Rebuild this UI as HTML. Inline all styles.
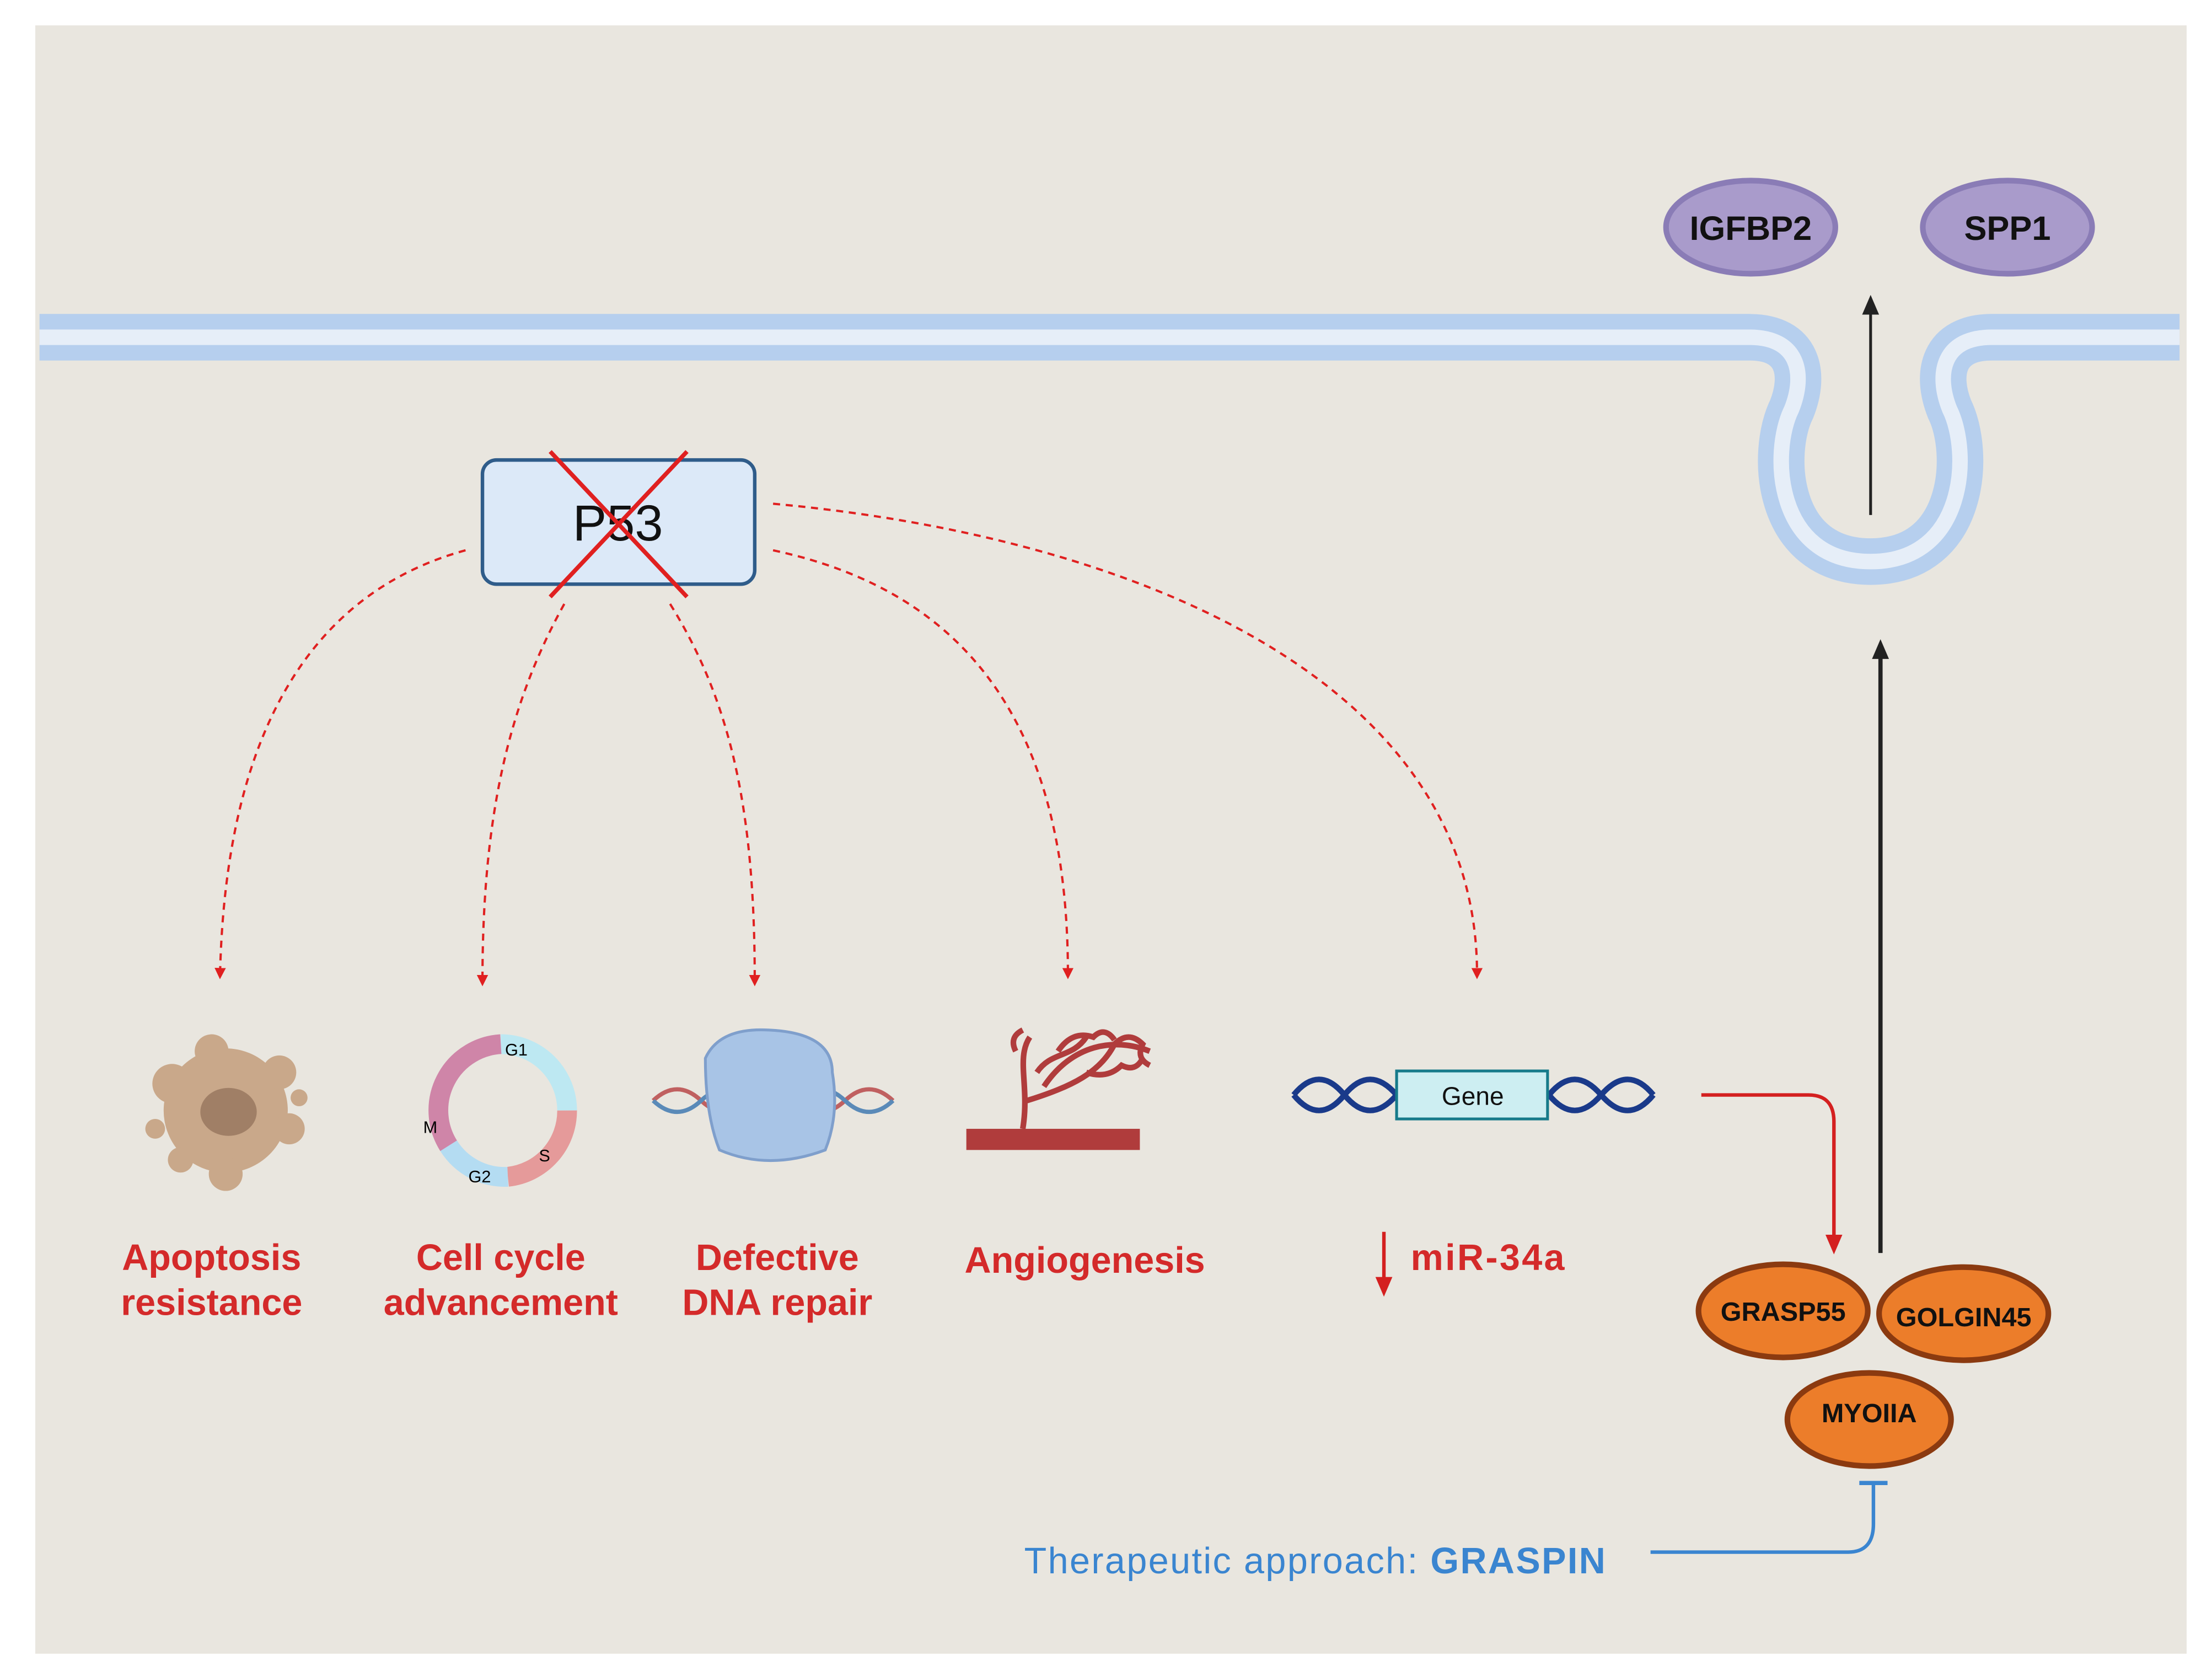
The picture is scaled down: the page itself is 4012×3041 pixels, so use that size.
<!DOCTYPE html>
<html><head><meta charset="utf-8"><style>
html,body{margin:0;padding:0;background:#fff;}
svg{display:block;}
text{font-family:"Liberation Sans",sans-serif;}
</style></head><body>
<svg width="4012" height="3041" viewBox="0 0 1568 1188.5" preserveAspectRatio="none" xmlns="http://www.w3.org/2000/svg">
<defs>
<marker id="ar" markerWidth="8" markerHeight="8" refX="4" refY="4" orient="auto" markerUnits="userSpaceOnUse"><path d="M0,0 L8,4 L0,8 z" fill="#e02020"/></marker>
<marker id="arb" markerWidth="14" markerHeight="14" refX="7" refY="7" orient="auto" markerUnits="userSpaceOnUse"><path d="M0,1 L14,7 L0,13 z" fill="#222"/></marker>
<marker id="arr" markerWidth="14" markerHeight="14" refX="7" refY="7" orient="auto" markerUnits="userSpaceOnUse"><path d="M0,1 L14,7 L0,13 z" fill="#d42020"/></marker>
</defs>
<rect x="25" y="18" width="1525" height="1154" fill="#e9e6df"/>
<path d="M28 239 H1240 C1275 239 1280 265 1270 290 C1255 320 1258 398 1326 398 C1394 398 1397 320 1382 290 C1372 265 1377 239 1412 239 H1545" fill="none" stroke="#b6cfee" stroke-width="33"/>
<path d="M28 239 H1240 C1275 239 1280 265 1270 290 C1255 320 1258 398 1326 398 C1394 398 1397 320 1382 290 C1372 265 1377 239 1412 239 H1545" fill="none" stroke="#e6eef8" stroke-width="11"/>
<ellipse cx="1241" cy="161" rx="60" ry="33" fill="#a99bcb" stroke="#8a7cb6" stroke-width="4"/>
<text x="1241" y="170" font-size="24" font-weight="bold" text-anchor="middle" fill="#111">IGFBP2</text>
<ellipse cx="1423" cy="161" rx="60" ry="33" fill="#a99bcb" stroke="#8a7cb6" stroke-width="4"/>
<text x="1423" y="170" font-size="24" font-weight="bold" text-anchor="middle" fill="#111">SPP1</text>
<line x1="1326" y1="365" x2="1326" y2="216" stroke="#222" stroke-width="2" marker-end="url(#arb)"/>
<line x1="1333" y1="888" x2="1333" y2="460" stroke="#222" stroke-width="3" marker-end="url(#arb)"/>
<rect x="342" y="326" width="193" height="88" rx="10" fill="#dce9f8" stroke="#2f5c8a" stroke-width="2.5"/>
<text x="438" y="383" font-size="36" text-anchor="middle" fill="#111">P53</text>
<line x1="390" y1="320" x2="487" y2="423" stroke="#e02020" stroke-width="3"/>
<line x1="487" y1="320" x2="390" y2="423" stroke="#e02020" stroke-width="3"/>
<g fill="none" stroke="#e02020" stroke-width="1.6" stroke-dasharray="5,4">
<path d="M330 390 C220 420 160 520 156 690" marker-end="url(#ar)"/>
<path d="M400 428 C360 500 342 580 342 695" marker-end="url(#ar)"/>
<path d="M475 428 C520 500 535 580 535 695" marker-end="url(#ar)"/>
<path d="M548 390 C690 420 757 520 757 690" marker-end="url(#ar)"/>
<path d="M548 357 C800 380 1047 480 1047 690" marker-end="url(#ar)"/>
</g>
<g fill="#c9a88a">
<circle cx="160" cy="787" r="44"/>
<circle cx="122" cy="768" r="14"/><circle cx="150" cy="745" r="12"/><circle cx="198" cy="760" r="12"/>
<circle cx="205" cy="800" r="11"/><circle cx="160" cy="832" r="12"/><circle cx="128" cy="822" r="9"/>
<circle cx="212" cy="778" r="6"/><circle cx="110" cy="800" r="7"/>
</g>
<ellipse cx="162" cy="788" rx="20" ry="17" fill="#a07f66"/>
<g fill="none" stroke-width="14">
<path d="M355 740 A47 47 0 0 1 402 787" stroke="#bde8f2"/>
<path d="M402 787 A47 47 0 0 1 360 834" stroke="#e59a9a"/>
<path d="M360 834 A47 47 0 0 1 318 812" stroke="#b4dcf2"/>
<path d="M318 812 A47 47 0 0 1 355 740" stroke="#cf85a8"/>
</g>
<text x="358" y="748" font-size="12">G1</text><text x="300" y="803" font-size="12">M</text>
<text x="382" y="823" font-size="12">S</text><text x="332" y="838" font-size="12">G2</text>
<path d="M463 780 q17 -16 34 0 t34 0 t34 0 t34 0 t34 0" fill="none" stroke="#c06060" stroke-width="3"/>
<path d="M463 780 q17 16 34 0 t34 0 t34 0 t34 0 t34 0" fill="none" stroke="#5a8ab8" stroke-width="3"/>
<path d="M500 750 Q510 728 545 730 Q590 732 590 760 Q595 790 585 815 Q545 830 510 815 Q500 790 500 750z" fill="#a8c4e6" stroke="#7f9fcc" stroke-width="2"/>
<rect x="685" y="800" width="123" height="15" fill="#b03c3c"/>
<g fill="none" stroke="#b03c3c" stroke-width="4">
<path d="M725 800 C730 770 720 750 730 735"/><path d="M728 780 C760 770 780 760 790 740"/>
<path d="M740 770 C760 740 790 735 815 745"/><path d="M735 760 C745 745 760 750 770 735"/>
<path d="M790 740 q10 -10 20 0 q-5 10 5 15"/><path d="M720 745 q-5 -10 5 -15"/>
<path d="M750 745 q10 -15 25 -10 q8 -8 15 2"/><path d="M770 760 q15 5 25 -5 q10 5 15 -5"/>
</g>
<path d="M917 776 q18 -22 36 0 t37 0" fill="none" stroke="#1a3a8a" stroke-width="4"/>
<path d="M917 776 q18 22 36 0 t37 0" fill="none" stroke="#1a3a8a" stroke-width="4"/>
<path d="M1098 776 q18 -22 37 0 t37 0" fill="none" stroke="#1a3a8a" stroke-width="4"/>
<path d="M1098 776 q18 22 37 0 t37 0" fill="none" stroke="#1a3a8a" stroke-width="4"/>
<rect x="990" y="759" width="107" height="34" fill="#cdeef2" stroke="#167a8a" stroke-width="2"/>
<text x="1044" y="783" font-size="18" text-anchor="middle" fill="#111">Gene</text>
<g font-size="26" font-weight="bold" fill="#d42a2a" text-anchor="middle">
<text x="150" y="900">Apoptosis</text><text x="150" y="932">resistance</text>
<text x="355" y="900">Cell cycle</text><text x="355" y="932">advancement</text>
<text x="551" y="900">Defective</text><text x="551" y="932">DNA repair</text>
<text x="769" y="902">Angiogenesis</text>
<text x="1000" y="900" text-anchor="start" textLength="109">miR-34a</text>
</g>
<line x1="981" y1="873" x2="981" y2="912" stroke="#d42020" stroke-width="2.5" marker-end="url(#arr)"/>
<path d="M1206 776 H1282 Q1300 776 1300 795 V882" fill="none" stroke="#d42020" stroke-width="2.5" marker-end="url(#arr)"/>
<g stroke="#8b3a10" stroke-width="4" fill="#ec7d2a">
<ellipse cx="1264" cy="929" rx="60" ry="33"/><ellipse cx="1392" cy="931" rx="60" ry="33"/><ellipse cx="1325" cy="1006" rx="58" ry="33"/>
</g>
<g font-size="19" font-weight="bold" fill="#111" text-anchor="middle">
<text x="1264" y="936">GRASP55</text><text x="1392" y="940">GOLGIN45</text><text x="1325" y="1008">MYOIIA</text>
</g>
<text x="726" y="1115" font-size="26" fill="#3a85d0" textLength="412" lengthAdjust="spacing">Therapeutic approach: <tspan font-weight="bold">GRASPIN</tspan></text>
<path d="M1170 1100 H1310 Q1328 1100 1328 1080 V1051" fill="none" stroke="#3a85d0" stroke-width="2.5"/>
<line x1="1318" y1="1051" x2="1338" y2="1051" stroke="#3a85d0" stroke-width="3"/>
</svg>
</body></html>
